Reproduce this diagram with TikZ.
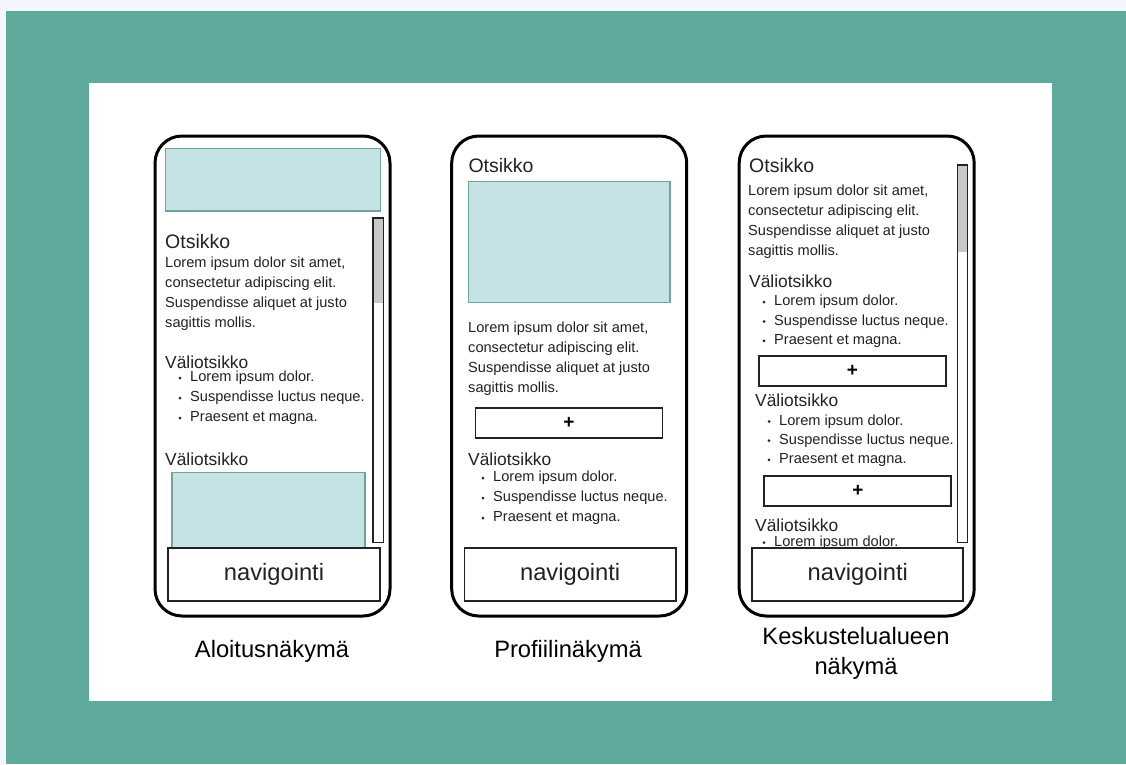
\documentclass[tikz,border=0pt]{standalone}
\usepackage{fontspec}
\setmainfont{Liberation Sans}
\definecolor{pagetop}{HTML}{F5F5FD}
\definecolor{frameteal}{HTML}{5EAB9E}
\definecolor{imgfill}{HTML}{C5E3E5}
\definecolor{imgline}{HTML}{6FA39C}
\definecolor{thumbgray}{HTML}{C9C9C9}
\definecolor{ink}{HTML}{222222}

\tikzset{
  phone/.style={draw=black, line width=3pt, rounded corners=27pt, fill=white,
    minimum width=235pt, minimum height=480pt, inner sep=0pt},
  img/.style={draw=imgline, fill=imgfill, line width=1.4pt},
  navbox/.style={draw=ink, line width=1.7pt, fill=white, inner sep=0pt,
    minimum height=53pt, font=\fontsize{23.7}{28}\selectfont, text=ink},
  plusbox/.style={draw=ink, line width=1.7pt, fill=white, inner sep=0pt,
    minimum height=30pt, minimum width=187pt, font=\fontsize{19}{20}\bfseries, text=black},
  head/.style={anchor=base west, inner sep=0pt, font=\fontsize{19.5}{23}\selectfont, text=ink},
  sub/.style={anchor=base west, inner sep=0pt, font=\fontsize{17.4}{20}\selectfont, text=ink},
  body/.style={anchor=base west, inner sep=0pt, font=\fontsize{14.6}{20}\selectfont, text=ink},
  caption/.style={anchor=base, inner sep=0pt, font=\fontsize{23.7}{31}\selectfont, text=black},
  sbar/.style={draw=ink, line width=1.6pt, fill=white},
}

% paragraph: name, x, first baseline, line step, lines
\newcommand\para[5]{%
  \foreach \ln [count=\k] in {#5} {\node[body] (#1-\k) at (#2, #3+#4*\k-#4) {\ln};}}
% bullet list: name, dot x, text x, first baseline, line step, items
\newcommand\bullets[6]{%
  \foreach \ln [count=\k] in {#6} {%
    \node[body] (#1-\k) at (#3, #4+#5*\k-#5) {\ln};
    \fill[ink] (#2, #4+#5*\k-#5-3.5) circle (1.5pt);}}

\begin{document}
\begin{tikzpicture}[x=1pt, y=-1pt]
\useasboundingbox (0,0) rectangle (1126,764);
\fill[pagetop] (0,0) rectangle (1126,764);
\fill[frameteal] (6,11) rectangle (1126,764);
\fill[white] (89,83) rectangle (1052,701);

% ---------- home view ----------
\node[phone] (ph1) at (272.5,376) {};
\draw[img] (165.7,148.3) rectangle (380.7,211);
\node[head] (h1) at (165,248.3) {Otsikko};
\para{b1}{165}{267}{20}{{Lorem ipsum dolor sit amet,},{consectetur adipiscing elit.},{Suspendisse aliquet at justo},{sagittis mollis.}}
\node[sub] (s1a) at (165,368) {Väliotsikko};
\bullets{l1}{180}{190}{381.7}{20}{{Lorem ipsum dolor.},{Suspendisse luctus neque.},{Praesent et magna.}}
\node[sub] (s1b) at (165,465) {Väliotsikko};
\draw[img] (172,472.7) rectangle (365,570);
\draw[sbar] (372.7,217.7) rectangle (383.5,542.3);
\fill[thumbgray] (373.5,218.5) rectangle (382.7,303);
\node[navbox, minimum width=212pt] (nav1) at (274,574.2) {\raisebox{3pt}{navigointi}};

% ---------- profile view ----------
\node[phone] (ph2) at (569.2,376) {};
\node[head] (h2) at (468.3,172.3) {Otsikko};
\draw[img] (468.3,181.7) rectangle (670,302.7);
\para{b2}{468}{332.7}{19.8}{{Lorem ipsum dolor sit amet,},{consectetur adipiscing elit.},{Suspendisse aliquet at justo},{sagittis mollis.}}
\node[plusbox] (plus2) at (569,422.7) {+};
\node[sub] (s2) at (468,465) {Väliotsikko};
\bullets{l2}{483}{493}{481.7}{20}{{Lorem ipsum dolor.},{Suspendisse luctus neque.},{Praesent et magna.}}
\node[navbox, minimum width=211.7pt] (nav2) at (570.2,574.2) {\raisebox{3pt}{navigointi}};

% ---------- discussion view ----------
\node[phone] (ph3) at (856.7,376) {};
\node[head] (h3) at (749,172.3) {Otsikko};
\para{b3}{748}{195.7}{19.8}{{Lorem ipsum dolor sit amet,},{consectetur adipiscing elit.},{Suspendisse aliquet at justo},{sagittis mollis.}}
\node[sub] (s3a) at (749,287.3) {Väliotsikko};
\bullets{l3a}{764}{774}{305.7}{19.3}{{Lorem ipsum dolor.},{Suspendisse luctus neque.},{Praesent et magna.}}
\node[plusbox] (plus3a) at (852.3,370.8) {+};
\node[sub] (s3b) at (755,406.7) {Väliotsikko};
\bullets{l3b}{769}{779}{425}{19.2}{{Lorem ipsum dolor.},{Suspendisse luctus neque.},{Praesent et magna.}}
\node[plusbox] (plus3b) at (857.8,490.7) {+};
\node[sub] (s3c) at (755,531.7) {Väliotsikko};
\bullets{l3c}{764}{774}{546}{20}{{Lorem ipsum dolor.}}
\draw[sbar] (957.3,165) rectangle (967.3,542.3);
\fill[thumbgray] (958.1,165.8) rectangle (966.5,251.7);
\node[navbox, minimum width=211pt] (nav3) at (857.8,574.2) {\raisebox{3pt}{navigointi}};

% ---------- captions ----------
\node[caption] (c1) at (272,657) {Aloitusnäkymä};
\node[caption] (c2) at (568,657) {Profiilinäkymä};
\node[caption] (c3a) at (856,644) {Keskustelualueen};
\node[caption] (c3b) at (856,674) {näkymä};
\end{tikzpicture}
\end{document}
